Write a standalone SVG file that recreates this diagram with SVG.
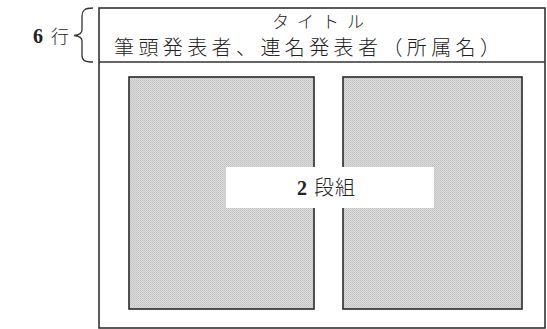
<svg xmlns="http://www.w3.org/2000/svg" width="547" height="329" viewBox="0 0 547 329">
<style>
.t{font-family:"Noto Sans CJK JP","Noto Sans CJK SC",sans-serif;fill:#222;font-weight:300}
.n{font-family:"Liberation Serif",serif;font-weight:bold;fill:#222}
.col{fill:url(#dots);stroke:#2a2a2a;stroke-width:1.6}
.frame{fill:none;stroke:#333;stroke-width:1.6}
</style>
<defs>
<pattern id="dots" width="2" height="2" patternUnits="userSpaceOnUse">
<rect width="2" height="2" fill="#dadada"/>
<rect width="1" height="1" fill="#c2c2c2"/>
<rect x="1" y="1" width="1" height="1" fill="#cbcbcb"/>
</pattern>
</defs>
<rect width="547" height="329" fill="#fff"/>
<g id="label-6gyou">
<text class="n" x="33" y="43" font-size="20">6</text>
<text class="t" x="51" y="43" font-size="18">行</text>
<path d="M93,8 C84,8 82,11 82,16 L82,30 C82,33 79,35 74,35.5 C79,36 82,38 82,41 L82,55 C82,60 84,62 93,62" fill="none" stroke="#333" stroke-width="1.3"/>
</g>
<g id="page">
<rect class="frame" x="99" y="8" width="446" height="320"/>
<line x1="99" y1="62" x2="545" y2="62" stroke="#333" stroke-width="1.6"/>
</g>
<g id="title">
<text class="t" x="322" y="28" font-size="17" letter-spacing="8" text-anchor="middle">タイトル</text>
<text class="t" x="114" y="55" font-size="20" letter-spacing="4.4">筆頭発表者、連名発表者（所属名）</text>
</g>
<g id="col-left"><rect class="col" x="129" y="77" width="185" height="232"/></g>
<g id="col-right"><rect class="col" x="343" y="77" width="179" height="232"/></g>
<g id="label-2dan">
<rect x="226" y="167" width="208" height="41" fill="#fff"/>
<text class="n" x="297" y="195" font-size="20">2</text>
<text class="t" x="314" y="195" font-size="20" letter-spacing="1">段組</text>
</g>
<g id="connectors"></g>
</svg>
